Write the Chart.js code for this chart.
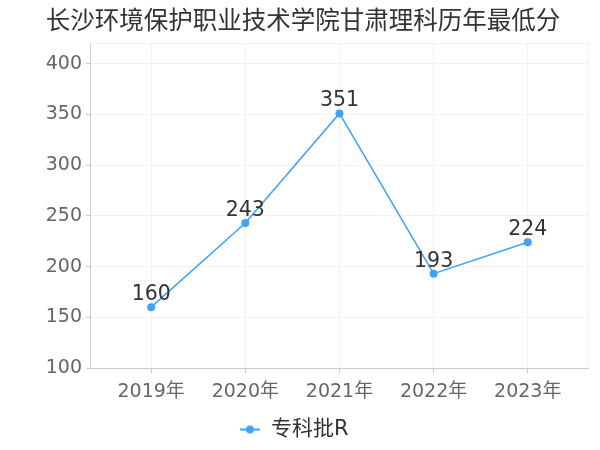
<!DOCTYPE html>
<html>
<head>
<meta charset="utf-8">
<script src="https://cdn.jsdelivr.net/npm/chart.js@4"></script>
<style>
  html, body { margin: 0; padding: 0; background: #fff; }
  #wrap { width: 600px; height: 450px; }
</style>
</head>
<body>
<div id="wrap"><canvas id="scoreChart" width="600" height="450"></canvas></div>
<script>
const years = ['2019年', '2020年', '2021年', '2022年', '2023年'];
const scores = [160, 243, 351, 193, 224];
const yTicks = [100, 150, 200, 250, 300, 350, 400];
const seriesName = '专科批R';
const chartTitle = '长沙环境保护职业技术学院甘肃理科历年最低分';

const FONT = '"DejaVu Sans", "Noto Sans CJK SC", sans-serif';
const LINE_COLOR = '#3ea2ff';
const X_MIN = -0.65, X_MAX = 4.64, Y_MIN = 100, Y_MAX = 420;

// legend marker: short line with a dot in the middle
function legendMarker() {
  const c = document.createElement('canvas');
  c.width = 20; c.height = 10;
  const g = c.getContext('2d');
  g.strokeStyle = LINE_COLOR;
  g.lineWidth = 2;
  g.beginPath(); g.moveTo(0, 5); g.lineTo(20, 5); g.stroke();
  g.fillStyle = LINE_COLOR;
  g.beginPath(); g.arc(10, 5, 4, 0, Math.PI * 2); g.fill();
  return c;
}

const valueLabels = {
  id: 'valueLabels',
  afterLayout(chart) {
    // title sits a little right of the canvas centre in the original
    if (chart.titleBlock) chart.titleBlock.left += 18;
  },
  afterDatasetsDraw(chart) {
    const ctx = chart.ctx;
    const meta = chart.getDatasetMeta(0);
    ctx.save();
    ctx.font = '20.5px ' + FONT;
    ctx.fillStyle = '#333';
    ctx.textAlign = 'center';
    ctx.textBaseline = 'bottom';
    meta.data.forEach((pt, i) => {
      ctx.fillText(String(scores[i]), pt.x, pt.y - 2);
    });
    ctx.restore();
  }
};

const ctx = document.getElementById('scoreChart').getContext('2d');
new Chart(ctx, {
  type: 'line',
  data: {
    datasets: [{
      label: seriesName,
      data: scores.map((v, i) => ({ x: i, y: v })),
      borderColor: LINE_COLOR,
      backgroundColor: LINE_COLOR,
      borderWidth: 1.5,
      pointRadius: 4,
      pointHoverRadius: 4,
      pointBackgroundColor: LINE_COLOR,
      pointBorderWidth: 0,
      tension: 0
    }]
  },
  options: {
    responsive: false,
    animation: false,
    layout: { padding: { left: 0, right: 12, top: 0, bottom: 0 } },
    scales: {
      x: {
        type: 'linear',
        min: X_MIN,
        max: X_MAX,
        afterBuildTicks: s => {
          s.ticks = [X_MIN, ...years.map((_, i) => i), X_MAX].map(v => ({ value: v }));
        },
        afterFit: s => { s.height = 48; },
        ticks: {
          autoSkip: false,
          maxRotation: 0,
          color: '#666',
          font: { size: 19, family: FONT },
          padding: 8,
          callback: v => Number.isInteger(v) ? years[v] : ''
        },
        grid: {
          color: '#f2f2f2',
          tickLength: 5,
          tickColor: c => Number.isInteger(c.tick && c.tick.value) ? '#ccc' : 'rgba(0,0,0,0)'
        },
        border: { color: '#ccc', width: 1 }
      },
      y: {
        min: Y_MIN,
        max: Y_MAX,
        afterBuildTicks: s => {
          s.ticks = [...yTicks, Y_MAX].map(v => ({ value: v }));
        },
        afterFit: s => { s.width = 90; },
        ticks: {
          color: '#666',
          font: { size: 19, family: FONT },
          padding: 4,
          callback: v => (yTicks.includes(v) ? v : '')
        },
        grid: {
          color: '#f2f2f2',
          tickLength: 4,
          tickColor: c => (c.tick && yTicks.includes(c.tick.value)) ? '#ccc' : 'rgba(0,0,0,0)'
        },
        border: { color: '#ccc', width: 1 }
      }
    },
    plugins: {
      title: {
        display: true,
        text: chartTitle,
        color: '#333',
        font: { size: 24.5, family: FONT, weight: 'normal' },
        padding: { top: 8, bottom: 6 }
      },
      legend: {
        position: 'bottom',
        labels: {
          color: '#333',
          padding: 3,
          font: { size: 21, family: FONT },
          usePointStyle: true,
          generateLabels: chart => [{
            text: seriesName,
            pointStyle: legendMarker(),
            fontColor: '#333',
            datasetIndex: 0,
            hidden: false
          }]
        }
      },
      tooltip: { enabled: false }
    }
  },
  plugins: [valueLabels]
});
</script>
</body>
</html>
